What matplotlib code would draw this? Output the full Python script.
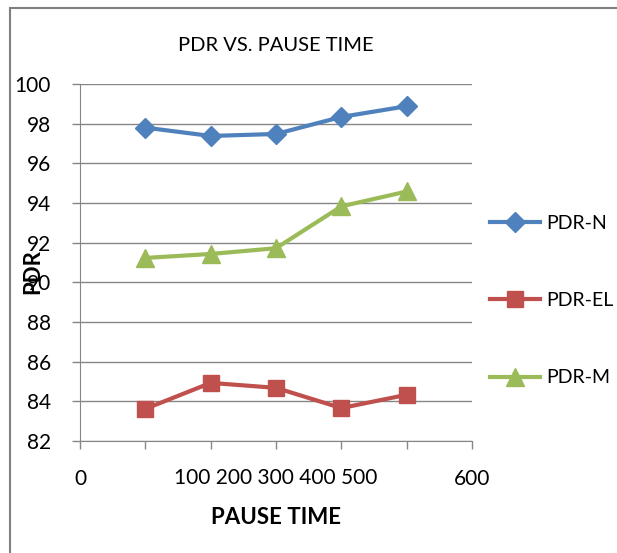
import matplotlib.pyplot as plt
from matplotlib.patches import Rectangle
from matplotlib.transforms import blended_transform_factory

plt.rcParams['font.family'] = ['Lato', 'DejaVu Sans']

# data
pause_time = [100, 200, 300, 400, 500]
pdr_n = [97.8, 97.38, 97.48, 98.34, 98.88]
pdr_el = [83.62, 84.93, 84.68, 83.66, 84.33]
pdr_m = [91.23, 91.43, 91.72, 93.83, 94.58]
names = ['PDR-N', 'PDR-EL', 'PDR-M']

fig = plt.figure(figsize=(6.17, 5.53), dpi=100)
ax = fig.add_axes([80 / 617, 1 - 441 / 553, 392 / 617, 357 / 553])

# rand om de grafiek
fig.patches.append(Rectangle((10 / 617, -0.1), 1.2, 1 - 8 / 553 + 0.1,
                             transform=fig.transFigure, fill=False,
                             edgecolor='#808080', linewidth=1.5))

grey = '#868686'
ax.plot(pause_time, pdr_n, color='#4F81BD', lw=3, marker='D', ms=10, label=names[0], clip_on=False)
ax.plot(pause_time, pdr_el, color='#C0504D', lw=3, marker='s', ms=12, label=names[1], clip_on=False)
ax.plot(pause_time, pdr_m, color='#9BBB59', lw=3, marker='^', ms=13, label=names[2], clip_on=False)

ax.set_xlim(0, 600)
ax.set_ylim(82, 100)
ax.set_yticks(range(82, 101, 2))
ax.set_xticks(range(0, 601, 100))
ax.set_xticklabels(['0', '', '', '', '', '', '600'])
ax.tick_params(axis='both', colors=grey, labelcolor='black', labelsize=15, length=6, width=1)
ax.tick_params(axis='x', pad=14)
ax.tick_params(axis='y', pad=15)
ax.grid(axis='y', color=grey, lw=1)
ax.set_axisbelow(True)
for s in ['top', 'right']:
    ax.spines[s].set_visible(False)
for s in ['left', 'bottom']:
    ax.spines[s].set_color(grey)

# middelste labels als een tekst
tr = blended_transform_factory(ax.transData, ax.transAxes)
ax.text(300, -0.104, '100 200 300 400 500', transform=tr, ha='center', va='center', fontsize=15)

ax.set_title('PDR VS. PAUSE TIME', fontsize=14.5, pad=24)
ax.set_xlabel('PAUSE TIME', fontsize=16, fontweight='bold', labelpad=13)
fig.text(33 / 617, 1 - 272 / 553, 'PDR', rotation=90, ha='center', va='center',
         fontsize=16, fontweight='bold')

ax.legend(loc='upper left', bbox_to_anchor=(1.025, 0.655), frameon=False, fontsize=14,
          handlelength=2.6, labelspacing=3.1, handletextpad=0.3, borderaxespad=0)

fig.savefig('out.png', dpi=100)
